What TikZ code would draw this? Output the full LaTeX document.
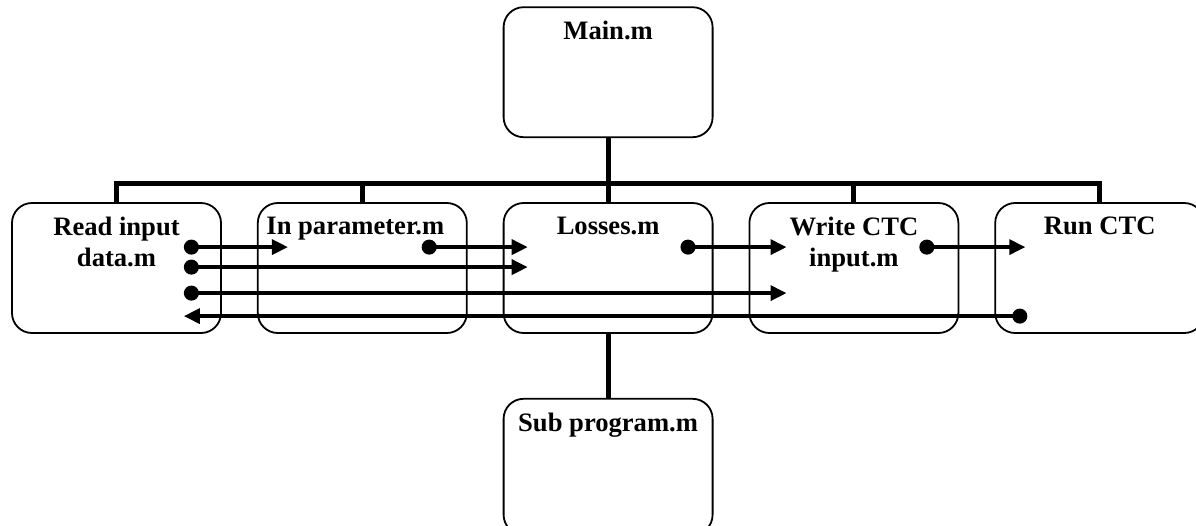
\documentclass[tikz,border=0pt]{standalone}
\usepackage{fontspec}
\setmainfont{Liberation Serif}
\usetikzlibrary{arrows.meta, positioning}

\begin{document}
\begin{tikzpicture}[
  x=1pt, y=-1pt,
  box/.style={draw, line width=1.8pt, rounded corners=20pt,
              minimum width=209pt, minimum height=130pt, inner sep=0pt},
  title/.style={anchor=north, yshift=-15pt, inner sep=0pt, align=center,
                font=\fontsize{26.6}{31}\selectfont\bfseries},
  bus/.style={line width=5pt},
  flow/.style={line width=3.5pt,
               {Circle[length=15pt]}-{Triangle[length=16pt, width=15pt]}},
  back/.style={line width=3.5pt,
               {Triangle[length=16pt, width=15pt]}-{Circle[length=15pt]}}
]
\useasboundingbox (0,0) rectangle (1196,525);

% row of modules
\node[box, label={[title]north:Read input\\data.m}] (read) at (116.5,268) {};
\node[box, right=35pt of read, label={[title, xshift=-7pt]north:In parameter.m}] (param) {};
\node[box, right=35pt of param, label={[title]north:Losses.m}] (loss) {};
\node[box, right=35pt of loss, label={[title]north:Write CTC\\input.m}] (write) {};
\node[box, right=35pt of write, label={[title]north:Run CTC}] (run) {};

\node[box, above=64pt of loss, label={[title]north:Main.m}] (main) {};
\node[box, below=64pt of loss, minimum height=136pt,
      label={[title]north:Sub program.m}] (sub) {};

% tree
\coordinate (top) at ([yshift=19pt]read.north);
\draw[bus] (read.north) -- (top) -| (run.north);
\foreach \n in {param, loss, write}
  \draw[bus] (\n.north) -- (\n.north |- top);
\draw[bus] (main.south) -- (main.south |- top);
\draw[bus] (loss.south) -- (sub.north);

% data flow
\draw[flow] ([shift={(-38pt,-45pt)}]read.north east) -- ([shift={(31pt,-45pt)}]param.north west);
\draw[flow] ([shift={(-38pt,-65pt)}]read.north east) -- ([shift={(25pt,-65pt)}]loss.north west);
\draw[flow] ([shift={(-38pt,-91pt)}]read.north east) -- ([shift={(38pt,-91pt)}]write.north west);
\draw[back] ([shift={(-38pt,-114pt)}]read.north east) -- ([shift={(33pt,-114pt)}]run.north west);
\draw[flow] ([shift={(-46pt,-45pt)}]param.north east) -- ([shift={(25pt,-45pt)}]loss.north west);
\draw[flow] ([shift={(-33pt,-45pt)}]loss.north east) -- ([shift={(38pt,-45pt)}]write.north west);
\draw[flow] ([shift={(-40pt,-45pt)}]write.north east) -- ([shift={(31pt,-45pt)}]run.north west);
\end{tikzpicture}
\end{document}
